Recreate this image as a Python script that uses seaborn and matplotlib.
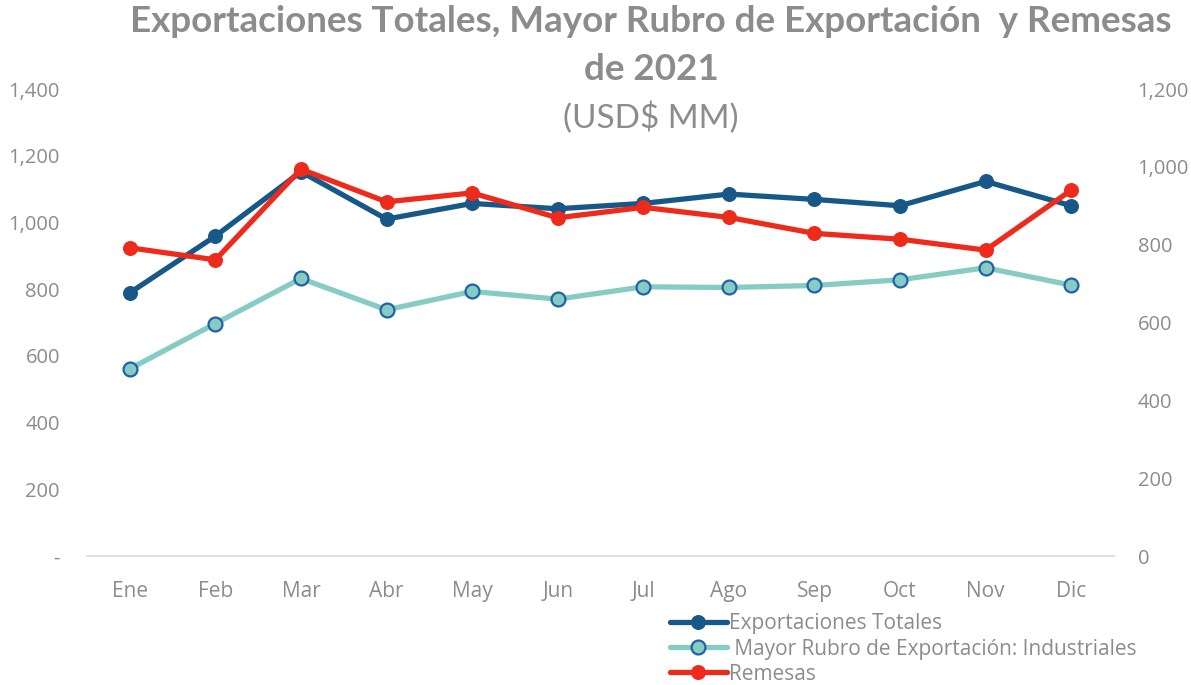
import matplotlib
matplotlib.use("Agg")
import matplotlib.pyplot as plt
import seaborn as sns
import pandas as pd
from matplotlib.ticker import FuncFormatter, FixedLocator

months = ["Ene", "Feb", "Mar", "Abr", "May", "Jun", "Jul", "Ago", "Sep", "Oct", "Nov", "Dic"]
exportaciones = [789, 959, 1152, 1010, 1057, 1041, 1057, 1085, 1069, 1050, 1123, 1050]
industriales = [561, 697, 832, 738, 793, 770, 807, 805, 811, 828, 864, 812]
remesas = [792, 761, 994, 910, 933, 869, 896, 870, 829, 814, 786, 940]

left_ticks = [0, 200, 400, 600, 800, 1000, 1200, 1400]
right_ticks = [0, 200, 400, 600, 800, 1000, 1200]

lbl_exp = "Exportaciones Totales"
lbl_ind = " Mayor Rubro de Exportación: Industriales"
lbl_rem = "Remesas"

sns.set_theme(style="white")
plt.rcParams["font.family"] = ["Open Sans", "DejaVu Sans"]

GRAY = "#8C8C8C"
C_EXP = "#175889"
C_IND = "#86CCC4"
C_IND_EDGE = "#1F63A6"
C_REM = "#EE2A1B"

df = pd.DataFrame({"mes": months, "exp": exportaciones, "ind": industriales, "rem": remesas})

fig = plt.figure(figsize=(11.91, 6.85), dpi=100)
ax = fig.add_axes([87 / 1191, 1 - 556 / 685, (1114 - 87) / 1191, (556 - 89) / 685])
ax2 = ax.twinx()

sns.lineplot(data=df, x="mes", y="exp", ax=ax, color=C_EXP, lw=3.8, marker="o",
             markersize=10, markeredgecolor=C_EXP, label=lbl_exp, sort=False, zorder=3)
sns.lineplot(data=df, x="mes", y="ind", ax=ax, color=C_IND, lw=3.8, marker="o",
             markersize=10, markerfacecolor=C_IND, markeredgecolor=C_IND_EDGE,
             markeredgewidth=1.6, label=lbl_ind, sort=False, zorder=3)
sns.lineplot(data=df, x="mes", y="rem", ax=ax2, color=C_REM, lw=3.8, marker="o",
             markersize=10, markeredgecolor=C_REM, label=lbl_rem, sort=False, zorder=3)

ax.set_xlim(-0.5, 11.5)
ax.set_ylim(0, 1400)
ax2.set_ylim(0, 1200)
ax.yaxis.set_major_locator(FixedLocator(left_ticks))
ax2.yaxis.set_major_locator(FixedLocator(right_ticks))
ax.yaxis.set_major_formatter(FuncFormatter(lambda v, p: "-" if v == 0 else f"{int(v):,}"))
ax2.yaxis.set_major_formatter(FuncFormatter(lambda v, p: f"{int(v):,}"))

ax.set_xlabel("")
ax.set_ylabel("")
ax2.set_ylabel("")
for a in (ax, ax2):
    for s in a.spines.values():
        s.set_visible(False)
    a.grid(False)
ax.spines["bottom"].set_visible(True)
ax.spines["bottom"].set_color("#D9D9D9")
ax.spines["bottom"].set_linewidth(1.2)

ax.tick_params(axis="y", length=0, pad=19.5, labelsize=14.5, labelcolor=GRAY)
ax2.tick_params(axis="y", length=0, pad=17, labelsize=14.5, labelcolor=GRAY)
ax.tick_params(axis="x", length=0, pad=18, labelsize=15, labelcolor=GRAY)

if ax.get_legend():
    ax.get_legend().remove()
if ax2.get_legend():
    ax2.get_legend().remove()

h1, l1 = ax.get_legend_handles_labels()
h2, l2 = ax2.get_legend_handles_labels()
fig.legend(h1 + h2, l1 + l2, loc="upper left", bbox_to_anchor=(662 / 1191, 1 - 605 / 685),
           frameon=False, fontsize=15, labelcolor=GRAY, handlelength=2.7,
           handletextpad=0.1, labelspacing=0.2, borderaxespad=0)

TFONT = ["Lato", "DejaVu Sans"]
fig.text(651 / 1191, 1 - 22 / 685, "Exportaciones Totales, Mayor Rubro de Exportación  y Remesas",
         ha="center", va="center", fontsize=26.5, fontweight="bold", color=GRAY, family=TFONT)
fig.text(651 / 1191, 1 - 70 / 685, "de 2021", ha="center", va="center", fontsize=26.5,
         fontweight="bold", color=GRAY, family=TFONT)
fig.text(651 / 1191, 1 - 118 / 685, "(USD$ MM)", ha="center", va="center", fontsize=24,
         color=GRAY, family=TFONT)

fig.savefig("out.png", dpi=100, facecolor="white")
